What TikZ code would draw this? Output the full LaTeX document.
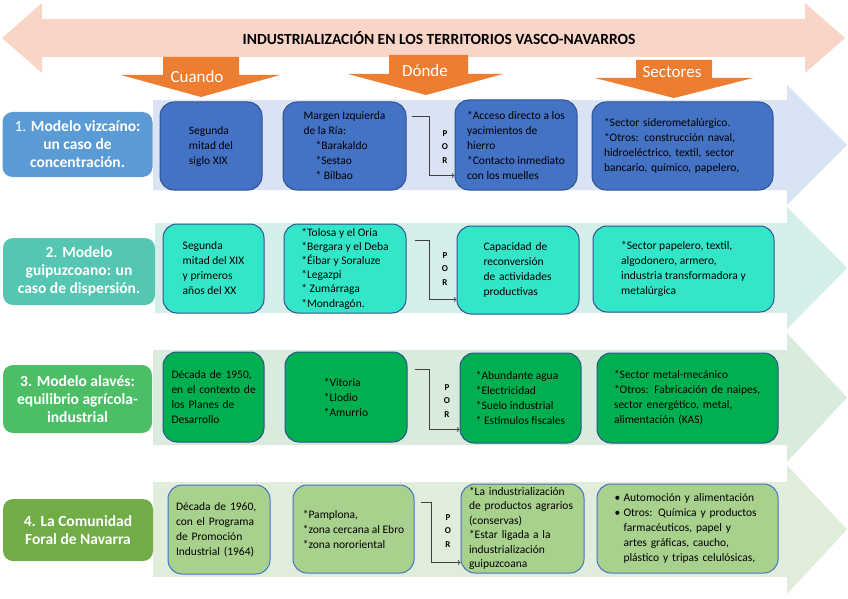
\documentclass[tikz,border=0pt]{standalone}
\usepackage{fontspec}
\setmainfont{Carlito}
\usetikzlibrary{calc}
\definecolor{banner}{HTML}{F8D5C6}
\definecolor{naranja}{HTML}{ED7D31}
\definecolor{borde}{HTML}{2F528F}
\definecolor{bordeclaro}{HTML}{4472C4}
\definecolor{banda1}{HTML}{DAE3F3}
\definecolor{modelo1}{HTML}{5B9BD5}
\definecolor{caja1}{HTML}{4472C4}
\definecolor{banda2}{HTML}{D6EEEA}
\definecolor{modelo2}{HTML}{55C6B2}
\definecolor{caja2}{HTML}{33E6C8}
\definecolor{banda3}{HTML}{D8EBDD}
\definecolor{modelo3}{HTML}{4CBF66}
\definecolor{caja3}{HTML}{00B050}
\definecolor{banda4}{HTML}{E0EDDA}
\definecolor{modelo4}{HTML}{70AD47}
\definecolor{caja4}{HTML}{A9D18E}
\newcommand{\jline}[2][\linewidth]{\makebox[#1][s]{#2}}
\tikzset{
  modelo/.style={fill=#1, rounded corners=10pt, text=white, align=center,
    font=\fontsize{15.5}{18}\selectfont\bfseries, inner sep=2pt,
    minimum width=150pt},
  celda/.style={fill=#1, draw=borde, line width=1pt, rounded corners=14pt,
    align=left, font=\fontsize{11.5}{15}\selectfont, inner sep=2pt},
  flecha/.style={text=white, font=\fontsize{17}{20}\selectfont},
  porline/.style={->, draw=black!75, line width=0.8pt},
  porlabel/.style={align=center, font=\fontsize{9}{13.5}\selectfont\bfseries, inner sep=0pt}
}
\begin{document}
\begin{tikzpicture}[x=1pt,y=-1pt]
  \useasboundingbox (0,0) rectangle (848,599);
  \fill[banner] (2,38) -- (42,3) -- (42,19) -- (805,19) -- (805,3) -- (845,38) -- (805,73) -- (805,57) -- (42,57) -- (42,73) -- cycle;
  \node[font=\fontsize{15.5}{18}\selectfont\bfseries] (titulo) at (439,38) {INDUSTRIALIZACIÓN EN LOS TERRITORIOS VASCO-NAVARROS};
  \fill[naranja] (163,57) -- (239,57) -- (239,75) -- (280,75) -- (201,97) -- (121,75) -- (163,75) -- cycle;
  \fill[naranja] (389,55) -- (468,55) -- (468,74) -- (503,74) -- (426,95) -- (348,74) -- (389,74) -- cycle;
  \fill[naranja] (636,60) -- (712,60) -- (712,78) -- (753,78) -- (674,98) -- (595,78) -- (636,78) -- cycle;
  \node[flecha] (cuando) at (197,77) {Cuando};
  \node[flecha] (donde) at (425,71) {Dónde};
  \node[flecha] (sectores) at (672,72) {Sectores};

  \fill[banda1] (153,100) -- (787,100) -- (787,85) -- (847,145) -- (787,205) -- (787,190) -- (153,190) -- cycle;
  \node[modelo=modelo1, minimum height=65pt] (vizcaino) at (77.5,144.5) {{\mdseries 1.} Modelo vizcaíno:\\un caso de\\concentración.};
  \node[celda=caja1, minimum width=102pt, minimum height=88pt] (cuando1) at (211,146) {Segunda\\mitad del\\siglo XIX};
  \node[celda=caja1, minimum width=123pt, minimum height=88pt] (donde1) at (344.5,146) {Margen Izquierda\\de la Ría:\\\hspace*{12pt}*Barakaldo\\\hspace*{12pt}*Sestao\\\hspace*{12pt}* Bilbao};
  \node[celda=caja1, minimum width=122pt, minimum height=90pt] (por1) at (516,145) {*Acceso directo a los\\yacimientos de\\hierro\\{}*Contacto inmediato\\con los muelles};
  \node[celda=caja1, minimum width=181pt, minimum height=88pt, text width=157pt] (sector1) at (682.5,146) {*Sector siderometalúrgico.\\\jline{*Otros: construcción naval,}\\\jline{hidroeléctrico, textil, sector}\\bancario, químico, papelero,};
  \draw[porline] ($(donde1.north east)+(5,15)$) -| ($(por1.south west)+(-25,-15)$) -- ($(por1.south west)+(0,-15)$);
  \node[porlabel] (letras1) at (445,147) {P\\O\\R};

  \fill[banda2] (155,223) -- (787,223) -- (787,207) -- (847,268) -- (787,329) -- (787,313) -- (155,313) -- cycle;
  \node[modelo=modelo2, minimum width=152pt, minimum height=67pt] (guipuzcoano) at (79,271.5) {2. Modelo\\guipuzcoano: un\\caso de dispersión.};
  \node[celda=caja2, minimum width=101pt, minimum height=89pt] (cuando2) at (213.5,268.5) {Segunda\\mitad del XIX\\y primeros\\años del XX};
  \node[celda=caja2, minimum width=122pt, minimum height=89pt, font=\fontsize{11.5}{14.2}\selectfont] (donde2) at (345,268.5) {*Tolosa y el Oria\\{}*Bergara y el Deba\\{}*Éibar y Soraluze\\{}*Legazpi\\{}* Zumárraga\\{}*Mondragón.};
  \node[celda=caja2, minimum width=122pt, minimum height=88pt, text width=69pt] (por2) at (518,270) {\jline{Capacidad de}\\reconversión\\\jline{de actividades}\\productivas};
  \node[celda=caja2, minimum width=181pt, minimum height=86pt] (sector2) at (683.5,269) {*Sector papelero, textil,\\algodonero, armero,\\industria transformadora y\\metalúrgica};
  \draw[porline] ($(donde2.north east)+(8,17)$) -| ($(por2.south west)+(-27,-15)$) -- ($(por2.south west)+(0,-15)$);
  \node[porlabel] (letras2) at (445,269) {P\\O\\R};

  \fill[banda3] (153,350) -- (787,350) -- (787,333) -- (847,397.5) -- (787,462) -- (787,445) -- (153,445) -- cycle;
  \node[modelo=modelo3, minimum width=149pt, minimum height=68pt] (alaves) at (77.5,399) {3. Modelo alavés:\\equilibrio agrícola-\\industrial};
  \node[celda=caja3, minimum width=101pt, minimum height=90pt, text width=84pt] (cuando3) at (213.5,397) {\jline{Década de 1950,}\\\jline{en el contexto de}\\\jline{los Planes de}\\Desarrollo};
  \node[celda=caja3, minimum width=122pt, minimum height=90pt] (donde3) at (346,397) {*Vitoria\\{}*Llodio\\{}*Amurrio};
  \node[celda=caja3, minimum width=121pt, minimum height=90pt] (por3) at (520.5,398) {*Abundante agua\\{}*Electricidad\\{}*Suelo industrial\\{}* Estímulos fiscales};
  \node[celda=caja3, minimum width=181pt, minimum height=90pt, text width=147pt] (sector3) at (687.5,398) {*Sector metal-mecánico\\\jline{*Otros: Fabricación de naipes,}\\\jline{sector energético, metal,}\\alimentación (KAS)};
  \draw[porline] ($(donde3.north east)+(7,18)$) -| ($(por3.south west)+(-30,-14)$) -- ($(por3.south west)+(0,-14)$);
  \node[porlabel] (letras3) at (447,401) {P\\O\\R};

  \fill[banda4] (153,482) -- (787,482) -- (787,465) -- (847,529.5) -- (787,594) -- (787,577) -- (153,577) -- cycle;
  \node[modelo=modelo4, minimum height=62pt] (navarra) at (78,530) {4. La Comunidad\\Foral de Navarra};
  \node[celda=caja4, draw=bordeclaro, minimum width=102pt, minimum height=89pt, text width=86pt] (cuando4) at (219,529.5) {\jline{Década de 1960,}\\\jline{con el Programa}\\\jline{de Promoción}\\Industrial (1964)};
  \node[celda=caja4, draw=bordeclaro, minimum width=121pt, minimum height=88pt] (donde4) at (353.5,529) {*Pamplona,\\{}*zona cercana al Ebro\\{}*zona nororiental};
  \node[celda=caja4, draw=bordeclaro, minimum width=123pt, minimum height=89pt, text width=107pt, font=\fontsize{11.5}{14.5}\selectfont] (por4) at (522.5,528.5) {\jline{*La industrialización}\\de productos agrarios\\(conservas)\\\jline{*Estar ligada a la}\\industrialización\\guipuzcoana};
  \node[celda=caja4, draw=bordeclaro, minimum width=181pt, minimum height=89pt, text width=146pt] (sector4) at (687.5,528.5) {\makebox[9pt][l]{\textbullet}Automoción y alimentación\\\makebox[9pt][l]{\textbullet}Otros: Química y productos\\\hspace*{9pt}\jline[137pt]{farmacéuticos, papel y}\\\hspace*{9pt}\jline[137pt]{artes gráficas, caucho,}\\\hspace*{9pt}plástico y tripas celulósicas,};
  \draw[porline] ($(donde4.north east)+(6,18)$) -| ($(por4.south west)+(-29,-11)$) -- ($(por4.south west)+(0,-11)$);
  \node[porlabel] (letras4) at (448,531) {P\\O\\R};
\end{tikzpicture}
\end{document}
